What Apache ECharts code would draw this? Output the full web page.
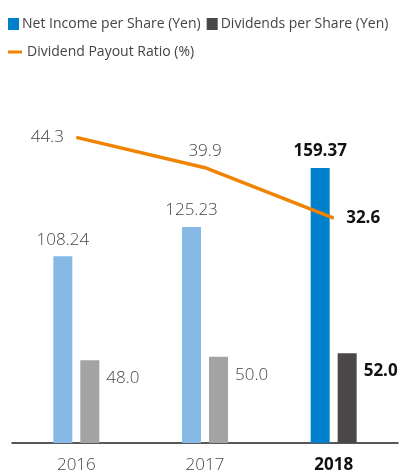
<!DOCTYPE html>
<html>
<head>
<meta charset="utf-8">
<script src="https://cdn.jsdelivr.net/npm/echarts@6/dist/echarts.min.js"></script>
<style>
  html, body { margin: 0; padding: 0; background: #fff; }
  #chart { width: 403px; height: 474px; }
</style>
</head>
<body>
<div id="chart"></div>
<script>
const years = ['2016', '2017', '2018'];
const netIncome = [108.24, 125.23, 159.37];
const dividends = [48.0, 50.0, 52.0];
const payoutRatio = [44.3, 39.9, 32.6];

const FONT = '"Open Sans", "Noto Sans", sans-serif';
const lightText = { color: '#454545', fontSize: 17, fontWeight: 300, fontFamily: FONT };
const boldText = { color: '#111', fontSize: 17, fontWeight: 'bold', fontFamily: FONT };

const chart = echarts.init(document.getElementById('chart'));

// last year is highlighted (darker colours, bold labels)
const last = years.length - 1;

chart.setOption({
  animation: false,
  legend: [{
    left: 3, top: 12,
    itemWidth: 11, itemHeight: 12, itemGap: 6,
    icon: 'rect',
    textStyle: { color: '#444', fontSize: 14, fontFamily: FONT, padding: [0, 0, 0, -2] },
    data: ['Net Income per Share (Yen)', 'Dividends per Share (Yen)']
  }, {
    left: 3, top: 40,
    itemWidth: 14, itemHeight: 3,
    textStyle: { color: '#444', fontSize: 14, fontFamily: FONT },
    data: [{ name: 'Dividend Payout Ratio (%)', icon: 'rect' }]
  }],
  grid: { left: 12, right: 5, top: 98, bottom: 28 },
  xAxis: {
    type: 'category',
    data: years.map((y, i) => i === last
      ? { value: y, textStyle: { color: '#111', fontWeight: 'bold' } }
      : y),
    axisLine: { lineStyle: { color: '#222', width: 1.5 } },
    axisTick: { show: false },
    axisLabel: { color: '#454545', fontSize: 17, fontWeight: 300, fontFamily: FONT, margin: 14 }
  },
  yAxis: [
    { type: 'value', min: 0, max: 200, show: false, splitLine: { show: false } },
    { type: 'value', min: 0, max: 50, show: false, splitLine: { show: false } }
  ],
  series: [{
    name: 'Net Income per Share (Yen)',
    type: 'bar',
    barWidth: 19,
    barGap: '42%',
    itemStyle: { color: '#0080CC' },
    data: netIncome.map((v, i) => ({
      value: v,
      itemStyle: { color: i === last ? '#0080CC' : '#86B9E6' },
      label: {
        show: true, position: 'top', distance: 8,
        formatter: v.toFixed(2),
        ...(i === last ? boldText : lightText)
      }
    }))
  }, {
    name: 'Dividends per Share (Yen)',
    type: 'bar',
    barWidth: 19,
    itemStyle: { color: '#4B4746' },
    data: dividends.map((v, i) => ({
      value: v,
      itemStyle: { color: i === last ? '#4B4746' : '#A2A3A2' },
      label: {
        show: true, position: [26, 18], align: 'left', verticalAlign: 'middle',
        formatter: v.toFixed(1),
        ...(i === last ? boldText : lightText)
      }
    }))
  }, {
    name: 'Dividend Payout Ratio (%)',
    type: 'line',
    yAxisIndex: 1,
    symbol: 'none',
    lineStyle: { color: '#F08300', width: 3.5 },
    itemStyle: { color: '#F08300' },
    data: payoutRatio.map((v, i) => ({
      value: v,
      symbol: 'circle',
      symbolSize: 1,
      label: {
        show: true,
        position: ['left', 'top', 'right'][i],
        distance: i === 1 ? 8 : 12,
        formatter: v.toFixed(1),
        ...(i === last ? boldText : lightText)
      }
    }))
  }]
});
</script>
</body>
</html>
